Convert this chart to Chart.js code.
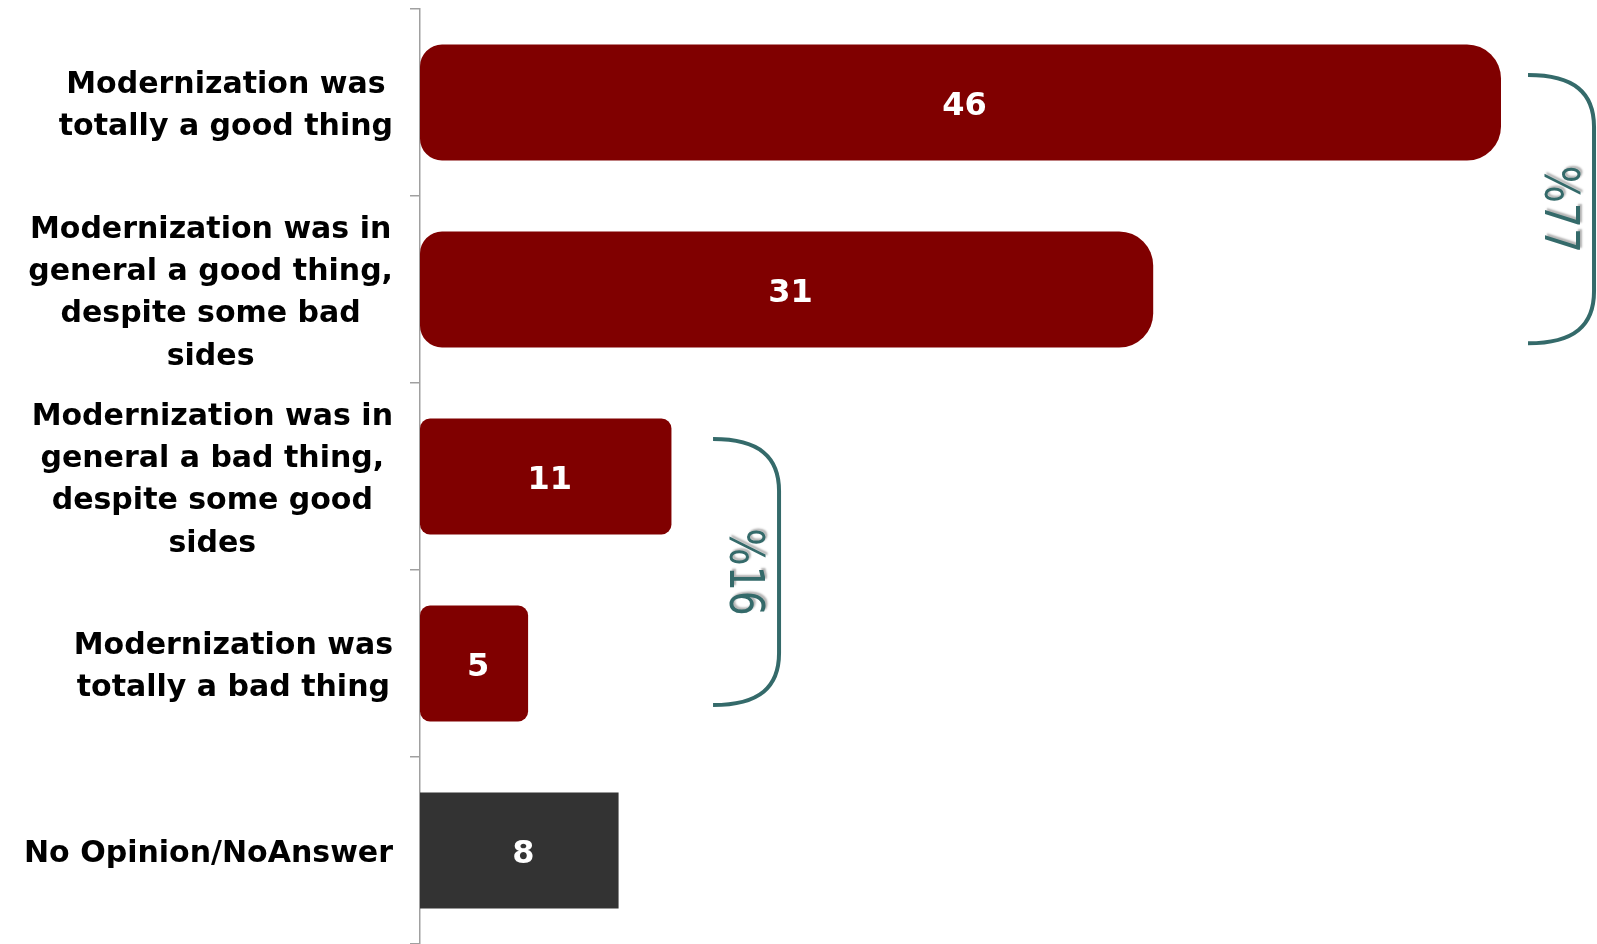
<!DOCTYPE html>
<html>
<head>
<meta charset="utf-8">
<script src="https://cdn.jsdelivr.net/npm/chart.js@4.4.1/dist/chart.umd.min.js"></script>
<style>
  html, body { margin: 0; padding: 0; background: #fff; }
  #wrap { width: 1597px; height: 944px; position: relative; }
</style>
</head>
<body>
<div id="wrap"><canvas id="myChart"></canvas></div>
<script>
'use strict';

// **************************** DATA ****************************

let categories = [
  ['Modernization was', 'totally a good thing'],
  ['Modernization was in', 'general a good thing,', 'despite some bad', 'sides'],
  ['Modernization was in', 'general a bad thing,', 'despite some good', 'sides'],
  ['Modernization was', 'totally a bad thing'],
  ['No Opinion/NoAnswer']
];
let values = [46, 31.2, 10.7, 4.6, 8.45];
let barColors = ['#800000', '#800000', '#800000', '#800000', '#333333'];

// brace groups: first/last category index and the text shown
let groupLabels = ['%77', '%16'];
let groupFrom = [0, 2];
let groupTo = [1, 3];

// **************************** HELPERS ****************************

let labelFont = 'bold 30px "DejaVu Sans", Verdana, sans-serif';
let teal = '#346a6a';

function barRadius(context) {
  let i = context.dataIndex;
  if (i === 0 || i === 1) {
    return { topLeft: 22, bottomLeft: 22, topRight: 34, bottomRight: 34 };
  }
  if (i === 2 || i === 3) {
    return 10;
  }
  return 0;
}

// category labels: each block right aligned, its lines centred
let categoryLabels = {
  id: 'categoryLabels',
  afterDraw(chart) {
    let c = chart.ctx;
    let yScale = chart.scales.y;
    let right = chart.chartArea.left - 27;
    let lineH = 42.3;
    c.save();
    c.font = labelFont;
    c.fillStyle = '#000';
    c.textAlign = 'center';
    c.textBaseline = 'middle';
    for (let i = 0; i < categories.length; i++) {
      let lines = categories[i];
      let widest = 0;
      for (let j = 0; j < lines.length; j++) {
        widest = Math.max(widest, c.measureText(lines[j]).width);
      }
      let cx = right - widest / 2;
      let cy = yScale.getPixelForValue(i);
      let y0 = cy - (lines.length - 1) * lineH / 2 + 4;
      for (let j = 0; j < lines.length; j++) {
        c.fillText(lines[j], cx, y0 + j * lineH);
      }
    }
    c.restore();
  }
};

// value labels inside bars
let valueLabels = {
  id: 'valueLabels',
  afterDatasetsDraw(chart) {
    let c = chart.ctx;
    let meta = chart.getDatasetMeta(0);
    c.save();
    c.font = 'bold 32px "DejaVu Sans", Verdana, sans-serif';
    c.fillStyle = '#fff';
    c.textAlign = 'center';
    c.textBaseline = 'middle';
    meta.data.forEach(function (bar, i) {
      c.fillText(String(Math.round(values[i])), (bar.x + bar.base) / 2 + 4, bar.y + 4);
    });
    c.restore();
  }
};

// right-hand braces with rotated totals
let braces = {
  id: 'braces',
  afterDraw(chart) {
    let c = chart.ctx;
    let yScale = chart.scales.y;
    let xScale = chart.scales.x;
    let band = yScale.getPixelForValue(1) - yScale.getPixelForValue(0);
    let specs = [
      { x: xScale.getPixelForValue(47.15), top: -0.147, bottom: 0.288, w: 66 },
      { x: xScale.getPixelForValue(12.47), top: -0.2, bottom: 0.222, w: 66 }
    ];
    c.save();
    for (let g = 0; g < groupLabels.length; g++) {
      let s = specs[g];
      let top = yScale.getPixelForValue(groupFrom[g]) + s.top * band;
      let bottom = yScale.getPixelForValue(groupTo[g]) + s.bottom * band;
      let left = s.x;
      let right = s.x + s.w;
      let r = 52;
      c.beginPath();
      c.moveTo(left, top);
      c.bezierCurveTo(left + r * 0.9, top, right, top + r * 0.35, right, top + r);
      c.lineTo(right, bottom - r);
      c.bezierCurveTo(right, bottom - r * 0.35, left + r * 0.9, bottom, left, bottom);
      c.lineWidth = 4;
      c.strokeStyle = teal;
      c.stroke();

      // rotated label
      c.save();
      c.translate(left + 29, (top + bottom) / 2);
      c.rotate(Math.PI / 2);
      c.scale(0.82, 1);
      c.font = '48px "DejaVu Sans", Verdana, sans-serif';
      c.textAlign = 'center';
      c.textBaseline = 'middle';
      c.shadowColor = 'rgba(0, 0, 0, 0.3)';
      c.shadowOffsetX = 2;
      c.shadowOffsetY = -2;
      c.shadowBlur = 2;
      c.fillStyle = teal;
      c.fillText(groupLabels[g], 0, 0);
      c.restore();
    }
    c.restore();
  }
};

// **************************** CHART ****************************

let ctx = document.getElementById('myChart');

let myChartObj = {
  type: 'bar',
  data: {
    labels: categories,
    datasets: [{
      data: values,
      backgroundColor: barColors,
      borderWidth: 0,
      borderSkipped: false,
      borderRadius: barRadius,
      barPercentage: 0.62,
      categoryPercentage: 1
    }]
  },
  options: {
    indexAxis: 'y',
    responsive: true,
    maintainAspectRatio: false,
    animation: false,
    layout: {
      padding: { top: 9, right: 2, bottom: 0, left: 0 }
    },
    plugins: {
      legend: { display: false },
      tooltip: { enabled: false }
    },
    scales: {
      x: {
        display: false,
        min: 0,
        max: 50
      },
      y: {
        afterFit: function (scale) { scale.width = 420; },
        ticks: { display: false },
        grid: {
          offset: true,
          drawOnChartArea: false,
          drawTicks: true,
          tickLength: 10,
          color: '#a0a0a0',
          lineWidth: 1.5
        },
        border: { display: true, color: '#a0a0a0', width: 1.5 }
      }
    }
  },
  plugins: [valueLabels, categoryLabels, braces]
};

new Chart(ctx, myChartObj);
</script>
</body>
</html>
